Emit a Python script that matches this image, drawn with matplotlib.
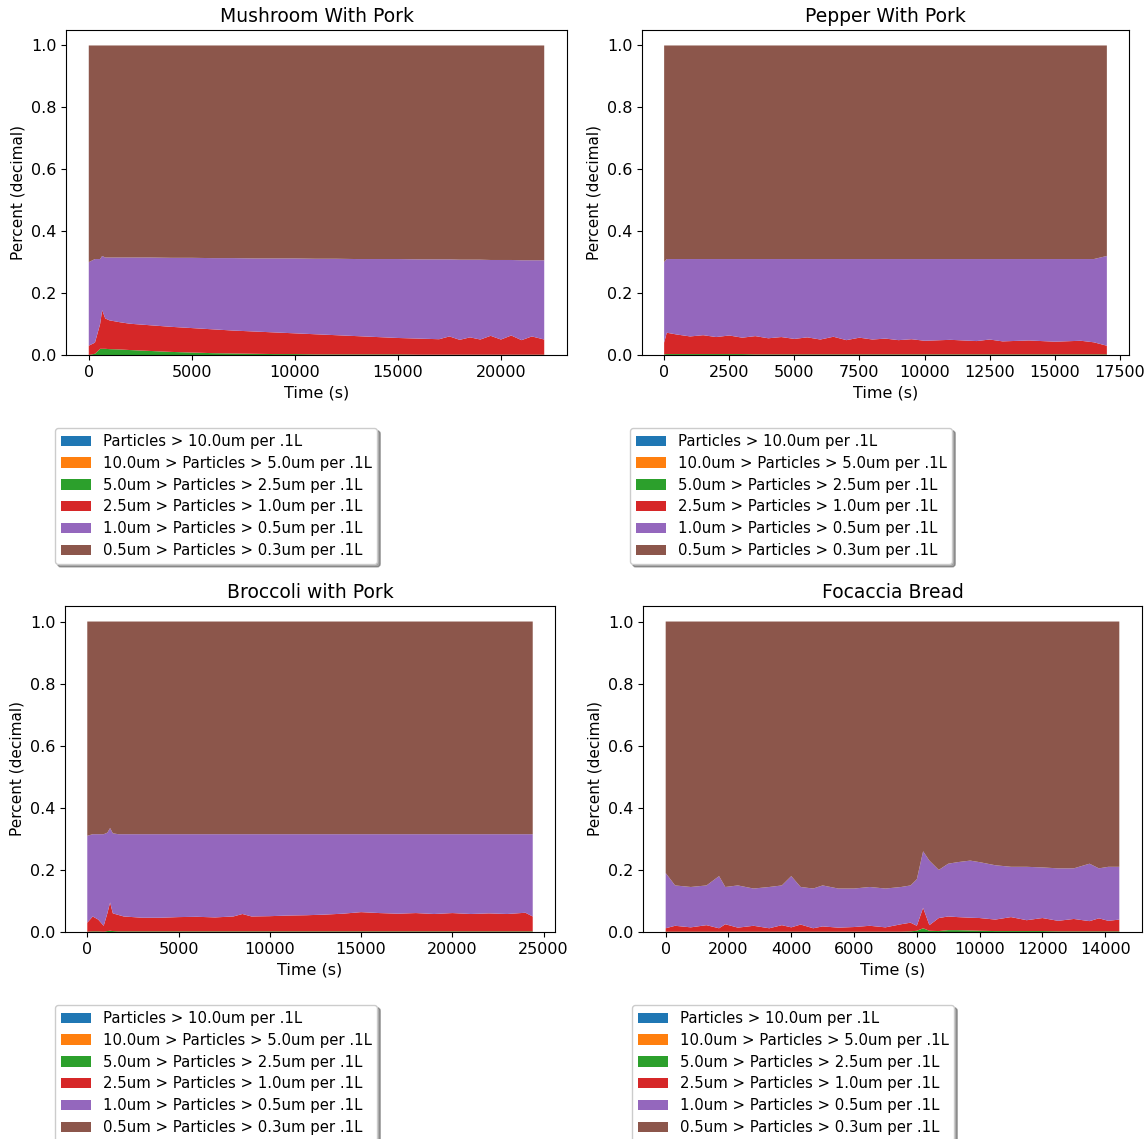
import numpy as np
import matplotlib
matplotlib.use("Agg")
import matplotlib.pyplot as plt

# ---------------------------------------------------------------------------
# legend labels (same for every panel)
labels = [
    "Particles > 10.0um per .1L",
    "10.0um > Particles > 5.0um per .1L",
    "5.0um > Particles > 2.5um per .1L",
    "2.5um > Particles > 1.0um per .1L",
    "1.0um > Particles > 0.5um per .1L",
    "0.5um > Particles > 0.3um per .1L",
]

# ---------------------------------------------------------------------------
# Mushroom With Pork -- cumulative tops of the stacked bands (fraction)
mush_t = [0, 300, 550, 650, 800, 1000, 1500, 2000, 3000, 4000, 5000, 6000,
          7000, 8000, 9000, 10000, 11000, 12000, 13000, 14000, 15000, 16000,
          17000, 17500, 18000, 18500, 19000, 19500, 20000, 20500, 21000,
          21500, 22100]
mush_green = [0.0, 0.004, 0.02, 0.02, 0.02, 0.019, 0.018, 0.016, 0.013, 0.010,
              0.008, 0.006, 0.005, 0.004, 0.003, 0.003, 0.002, 0.002, 0.002,
              0.002, 0.002, 0.001, 0.001, 0.001, 0.001, 0.001, 0.001, 0.001,
              0.001, 0.001, 0.001, 0.001, 0.001]
mush_red = [0.03, 0.04, 0.10, 0.145, 0.118, 0.112, 0.106, 0.101, 0.096, 0.091,
            0.087, 0.083, 0.079, 0.076, 0.073, 0.070, 0.067, 0.064, 0.061,
            0.058, 0.055, 0.053, 0.051, 0.060, 0.049, 0.057, 0.050, 0.062,
            0.050, 0.063, 0.048, 0.060, 0.050]
mush_purple = [0.30, 0.31, 0.31, 0.32, 0.315, 0.315, 0.315, 0.315, 0.315,
               0.314, 0.314, 0.313, 0.313, 0.312, 0.312, 0.312, 0.311, 0.311,
               0.310, 0.310, 0.310, 0.309, 0.309, 0.309, 0.308, 0.308, 0.308,
               0.307, 0.307, 0.307, 0.306, 0.306, 0.306]

# Pepper With Pork
pep_t = [0, 100, 500, 1000, 1500, 2000, 2500, 3000, 3500, 4000, 4500, 5000,
         5500, 6000, 6500, 7000, 7500, 8000, 8500, 9000, 9500, 10000, 11000,
         12000, 12500, 13000, 14000, 15000, 16000, 16500, 17000]
pep_green = [0.002, 0.003, 0.003, 0.003, 0.003, 0.003, 0.003, 0.003, 0.002,
             0.002, 0.002, 0.002, 0.002, 0.002, 0.002, 0.002, 0.002, 0.002,
             0.002, 0.002, 0.002, 0.002, 0.002, 0.002, 0.002, 0.002, 0.002,
             0.002, 0.002, 0.002, 0.002]
pep_red = [0.04, 0.072, 0.066, 0.060, 0.064, 0.058, 0.063, 0.056, 0.061, 0.054,
           0.058, 0.052, 0.057, 0.050, 0.059, 0.048, 0.056, 0.050, 0.053, 0.048,
           0.051, 0.046, 0.049, 0.045, 0.050, 0.044, 0.047, 0.043, 0.046, 0.041,
           0.030]
pep_purple = [0.30, 0.31, 0.31, 0.31, 0.31, 0.31, 0.31, 0.31, 0.31, 0.31, 0.31,
              0.31, 0.31, 0.31, 0.31, 0.31, 0.31, 0.31, 0.31, 0.31, 0.31, 0.31,
              0.31, 0.31, 0.31, 0.31, 0.31, 0.31, 0.31, 0.31, 0.32]

# Broccoli with Pork
broc_t = [0, 300, 600, 900, 1100, 1250, 1400, 1700, 2000, 3000, 4000, 5000,
          6000, 7000, 8000, 8500, 9000, 10000, 11000, 12000, 13000, 14000,
          15000, 16000, 17000, 18000, 19000, 20000, 21000, 22000, 23000,
          24000, 24400]
broc_green = [0.001, 0.002, 0.002, 0.001, 0.003, 0.004, 0.003, 0.002, 0.002,
              0.002, 0.002, 0.002, 0.002, 0.002, 0.002, 0.002, 0.002, 0.002,
              0.002, 0.002, 0.002, 0.002, 0.002, 0.002, 0.002, 0.002, 0.002,
              0.002, 0.002, 0.002, 0.002, 0.002, 0.002]
broc_red = [0.03, 0.05, 0.04, 0.02, 0.06, 0.095, 0.06, 0.055, 0.050, 0.046,
            0.046, 0.048, 0.049, 0.047, 0.050, 0.058, 0.050, 0.051, 0.053,
            0.054, 0.056, 0.059, 0.064, 0.061, 0.059, 0.061, 0.058, 0.061,
            0.058, 0.060, 0.058, 0.062, 0.050]
broc_purple = [0.31, 0.315, 0.315, 0.315, 0.32, 0.335, 0.318, 0.315, 0.315,
               0.315, 0.315, 0.315, 0.315, 0.315, 0.315, 0.315, 0.315, 0.315,
               0.315, 0.315, 0.315, 0.315, 0.315, 0.315, 0.315, 0.315, 0.315,
               0.315, 0.315, 0.315, 0.315, 0.315, 0.315]

# Focaccia Bread
foc_t = [0, 300, 800, 1300, 1700, 1900, 2300, 2800, 3300, 3700, 4000, 4300,
         4700, 5000, 5500, 6000, 6500, 7000, 7500, 7800, 8000, 8200, 8400,
         8700, 9000, 9300, 9700, 10000, 10500, 11000, 11500, 12000, 12500,
         13000, 13500, 13800, 14100, 14450]
foc_green = [0.001, 0.001, 0.001, 0.001, 0.001, 0.001, 0.001, 0.001, 0.001,
             0.001, 0.001, 0.001, 0.001, 0.001, 0.001, 0.001, 0.001, 0.001,
             0.001, 0.002, 0.004, 0.012, 0.004, 0.003, 0.006, 0.006, 0.005,
             0.004, 0.003, 0.003, 0.003, 0.003, 0.002, 0.002, 0.002, 0.002,
             0.002, 0.002]
foc_red = [0.012, 0.020, 0.015, 0.022, 0.012, 0.025, 0.014, 0.020, 0.012,
           0.022, 0.015, 0.024, 0.012, 0.018, 0.014, 0.016, 0.020, 0.015,
           0.025, 0.030, 0.020, 0.078, 0.022, 0.045, 0.050, 0.048, 0.046,
           0.045, 0.040, 0.048, 0.038, 0.045, 0.036, 0.042, 0.035, 0.044,
           0.036, 0.040]
foc_purple = [0.19, 0.15, 0.145, 0.15, 0.18, 0.145, 0.15, 0.14, 0.145, 0.15,
              0.18, 0.145, 0.14, 0.15, 0.14, 0.14, 0.145, 0.14, 0.145, 0.15,
              0.17, 0.26, 0.23, 0.20, 0.22, 0.225, 0.23, 0.225, 0.215, 0.21,
              0.21, 0.208, 0.205, 0.205, 0.22, 0.205, 0.21, 0.21]

panels = [
    ("Mushroom With Pork", mush_t, mush_green, mush_red, mush_purple),
    ("Pepper With Pork", pep_t, pep_green, pep_red, pep_purple),
    ("Broccoli with Pork", broc_t, broc_green, broc_red, broc_purple),
    ("Focaccia Bread", foc_t, foc_green, foc_red, foc_purple),
]

# ---------------------------------------------------------------------------
W, H = 1148, 1139
fig = plt.figure(figsize=(W / 100, H / 100), dpi=100)

# axes boxes in pixels (left, top, right, bottom) and legend anchor (x, y)
boxes = [(66, 30, 567, 355), (642, 30, 1129, 355),
         (65, 606, 555, 932), (643, 606, 1142, 932)]
leg_anchor = [(55, 428), (630, 428), (55, 1005), (632, 1005)]

for (title, t, g, r, p), (x0, y0, x1, y1), (lx, ly) in zip(panels, boxes, leg_anchor):
    ax = fig.add_axes([x0 / W, 1 - y1 / H, (x1 - x0) / W, (y1 - y0) / H])
    t = np.array(t, dtype=float)
    g, r, p = np.array(g), np.array(r), np.array(p)
    blue = np.zeros_like(t)
    orange = np.zeros_like(t)
    # tops are cumulative -> convert to band thickness
    green = g
    red = r - g
    purple = p - r
    brown = 1.0 - p
    ax.stackplot(t, blue, orange, green, red, purple, brown, labels=labels)
    ax.set_title(title, fontsize=13.5)
    ax.set_xlabel("Time (s)", fontsize=11.5)
    ax.set_ylabel("Percent (decimal)", fontsize=11)
    ax.tick_params(labelsize=11.5)
    ax.legend(loc="upper left", bbox_to_anchor=(lx / W, 1 - ly / H),
              bbox_transform=fig.transFigure, borderaxespad=0,
              shadow=True, fontsize=10.7, labelspacing=0.46)

fig.savefig("out.png", dpi=100)
